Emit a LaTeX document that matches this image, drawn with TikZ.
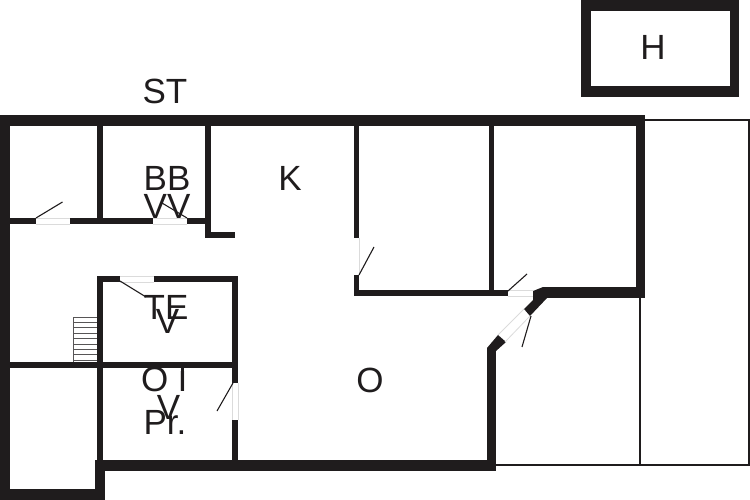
\documentclass[tikz,border=0pt]{standalone}
\usepackage{fontspec}
\setmainfont{Liberation Sans}
\definecolor{wallblack}{HTML}{1F1C1D}
\tikzset{
  wall/.style={fill=wallblack},
  thinwall/.style={draw=wallblack,line width=2pt},
  swing/.style={draw=wallblack,line width=1.1pt},
  doorgap/.style={draw=black!14,line width=.8pt},
  stairline/.style={draw=wallblack!75,line width=.8pt},
  roomlabel/.style={text=wallblack,inner sep=0pt,font=\fontsize{35}{35}\selectfont}
}
\begin{document}
\begin{tikzpicture}[x=1pt,y=-1pt]
\useasboundingbox (0,0) rectangle (750,500);

\node[roomlabel] (st) at (165,91) {ST};
\node[roomlabel] (hut) at (653,47) {H};
\node[roomlabel] (bb) at (167,178) {BB};
\node[roomlabel] (vvbb) at (167,206) {VV};
\node[roomlabel] (kitchen) at (290,178) {K};
\node[roomlabel] (te) at (166,307) {TE};
\node[roomlabel] (vte) at (167.5,321) {V};
\node[roomlabel,anchor=west] (ot) at (141,379.5) {O\kern3.5pt T};
\fill[white] (170,366) rectangle (180.6,371);
\fill[white] (183.6,366) rectangle (196,371);
\node[roomlabel] (vot) at (168.5,407) {V};
\node[roomlabel] (pr) at (165,422) {Pr.};
\node[roomlabel] (oo) at (370,380) {O};

\draw[thinwall] (645,120) -- (749,120) -- (749,465) -- (496,465);
\draw[thinwall] (640,298) -- (640,465);

\fill[wall] (581,0) rectangle (739,11);
\fill[wall] (581,86) rectangle (739,97);
\fill[wall] (581,0) rectangle (591,97);
\fill[wall] (730,0) rectangle (739,97);

\fill[wall] (0,115) rectangle (645,126);
\fill[wall] (0,115) rectangle (10,500);
\fill[wall] (0,489) rectangle (105,500);
\fill[wall] (95,460) rectangle (105,500);
\fill[wall] (95,460) rectangle (496,471);
\fill[wall] (487,348) rectangle (496,471);
\fill[wall] (636,115) rectangle (645,298);
\fill[wall] (543,287) rectangle (645,298);
\fill[wall] (487,348) -- (498,335) -- (506,342) -- (496,351) -- cycle;
\fill[wall] (524,309) -- (533,300) -- (533,291) -- (543,287) -- (547,298) -- (530,316) -- cycle;

\fill[wall] (97,126) rectangle (102.5,218);
\fill[wall] (205,126) rectangle (211,238);
\fill[wall] (205,232) rectangle (235,238);
\fill[wall] (10,218) rectangle (36,224);
\fill[wall] (70,218) rectangle (153,224);
\fill[wall] (187,218) rectangle (208,224);

\fill[wall] (97,276) rectangle (103,460);
\fill[wall] (97,276) rectangle (120,282);
\fill[wall] (154,276) rectangle (238,282);
\fill[wall] (232,276) rectangle (238,383);
\fill[wall] (232,420) rectangle (238,460);
\fill[wall] (10,362) rectangle (238,368);

\fill[wall] (354,126) rectangle (359,238);
\fill[wall] (354,275) rectangle (359,296);
\fill[wall] (354,290) rectangle (508,296);
\fill[wall] (489,126) rectangle (494,296);

\draw[doorgap] (36,218) -- (70,218) (36,224) -- (70,224);
\draw[doorgap] (153,218) -- (187,218) (153,224) -- (187,224);
\draw[doorgap] (120,276) -- (154,276) (120,282) -- (154,282);
\draw[doorgap] (238,383) -- (238,420) (232,383) -- (232,420);
\draw[doorgap] (359,238) -- (359,275);
\draw[doorgap] (508,290) -- (533,290) (508,296) -- (533,296);
\draw[doorgap] (498,335) -- (524,309) (505,342) -- (530,316);

\draw[swing] (36,218) -- (62.5,202);
\draw[swing] (187,218) -- (162,203);
\draw[swing] (120,281) -- (146,297);
\draw[swing] (233,383) -- (217,411);
\draw[swing] (359,275) -- (374,247);
\draw[swing] (508,291) -- (527,274);
\draw[swing] (531,316) -- (522,347);

\draw[stairline] (73,317) -- (73,362);
\foreach \i in {0,...,8}
  \draw[stairline] (73,317+5.4*\i) -- (97,317+5.4*\i);
\end{tikzpicture}
\end{document}
